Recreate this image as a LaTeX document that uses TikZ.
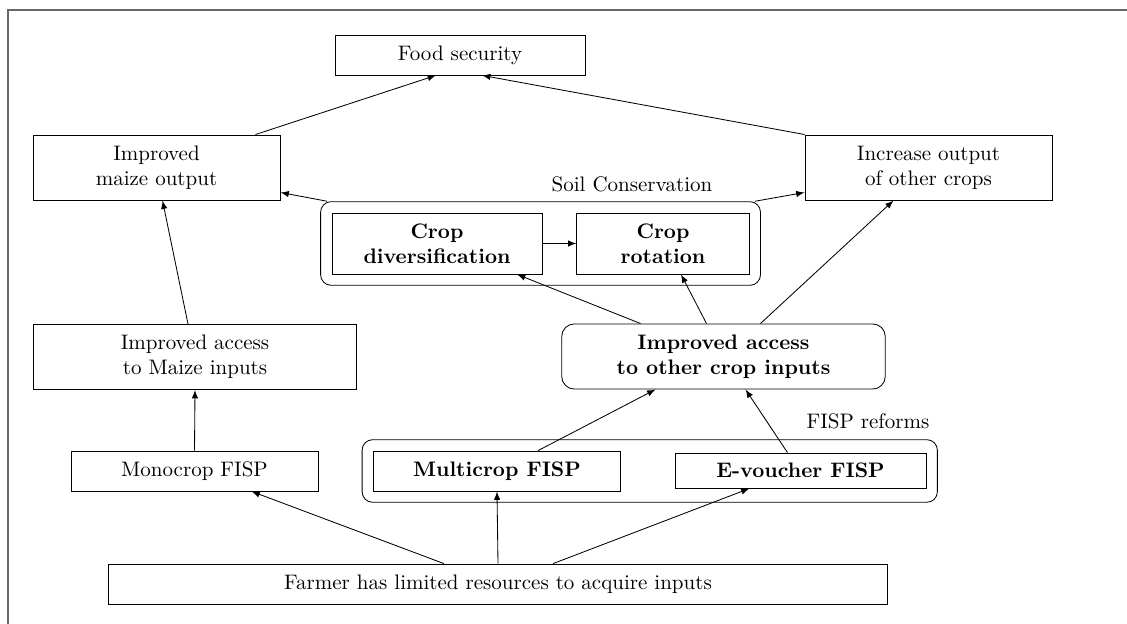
\documentclass[tikz,border=0pt]{standalone}
\usetikzlibrary{calc,fit}
\begin{document}
\begin{tikzpicture}[
  x=0.476pt,
  y=-0.476pt,
  box/.style={
    draw,
    align=center,
    minimum width=117.6pt,
    minimum height=31pt
  },
  slim/.style={
    box,
    minimum height=19pt
  },
  wide/.style={
    box,
    minimum width=154pt
  },
  group/.style={
    draw,
    rounded corners=5pt,
    inner sep=5.2pt
  },
  link/.style={-latex}
]
  \useasboundingbox (0,0) rectangle (1127,624);
  \draw[gray!80!black,line width=0.8pt] (8,624) -- (8,10) -- (1127,10);

  \node[slim,minimum width=119pt] (food) at (460,55) {Food security};
  \node[box] (maizeout) at (156.5,167.5) {Improved\\maize output};
  \node[box] (otherout) at (928.5,167.5) {Increase output\\of other crops};
  \node[box,minimum width=100pt,minimum height=29pt,font=\bfseries]
    (cropdiv) at (437,243.5) {Crop\\diversification};
  \node[box,minimum width=82pt,minimum height=29pt,font=\bfseries]
    (croprot) at (663,243.5) {Crop\\rotation};
  \node[group,fit=(cropdiv) (croprot)] (soil) {};
  \node (soillabel) at (632,184) {Soil Conservation};
  \node[wide] (accmaize) at (195,357) {Improved access\\to Maize inputs};
  \node[wide,rounded corners=6pt,font=\bfseries]
    (accother) at (723.5,356.5) {Improved access\\to other crop inputs};
  \node[slim] (monocrop) at (194.5,471) {Monocrop FISP};
  \node[slim,font=\bfseries] (multicrop) at (497,471) {Multicrop FISP};
  \node[slim,minimum width=119.5pt,minimum height=16.7pt,font=\bfseries]
    (evoucher) at (800.5,470.5) {E-voucher FISP};
  \node[group,fit=(multicrop) (evoucher)] (fisp) {};
  \node (fisplabel) at (868,421) {FISP reforms};
  \node[slim,minimum width=371pt] (farmer) at (498,584)
    {Farmer has limited resources to acquire inputs};

  \draw[link] ($(farmer.north)+(-54,0)$) -- ($(monocrop.south)+(57,0)$);
  \draw[link] (farmer.north) -- (multicrop.south);
  \draw[link] ($(farmer.north)+(55,0)$) -- ($(evoucher.south)+(-51,0)$);
  \draw[link] (monocrop.north) -- (accmaize.south);
  \draw[link] ($(accmaize.north)+(-7,0)$) -- ($(maizeout.south)+(6,0)$);
  \draw[link] ($(maizeout.north)+(99,0)$) -- ($(food.south)+(-24,0)$);
  \draw[link] (otherout.north west) -- ($(food.south)+(22,0)$);
  \draw[link] ($(soil.north west)+(7,0)$) -- ($(maizeout.south east)+(0,-8)$);
  \draw[link] ($(soil.north east)+(-6,0)$) -- ($(otherout.south west)+(0,-8)$);
  \draw[link] (cropdiv) -- (croprot);
  \draw[link] ($(multicrop.north)+(41,0)$) -- ($(accother.south)+(-68,0)$);
  \draw[link] ($(evoucher.north)+(-13,0)$) -- ($(accother.south)+(22,0)$);
  \draw[link] ($(accother.north)+(-83,0)$) -- ($(cropdiv.south)+(80,0)$);
  \draw[link] ($(accother.north)+(-17,0)$) -- ($(croprot.south)+(18,0)$);
  \draw[link] ($(accother.north)+(37,0)$) -- ($(otherout.south)+(-35,0)$);
\end{tikzpicture}
\end{document}
